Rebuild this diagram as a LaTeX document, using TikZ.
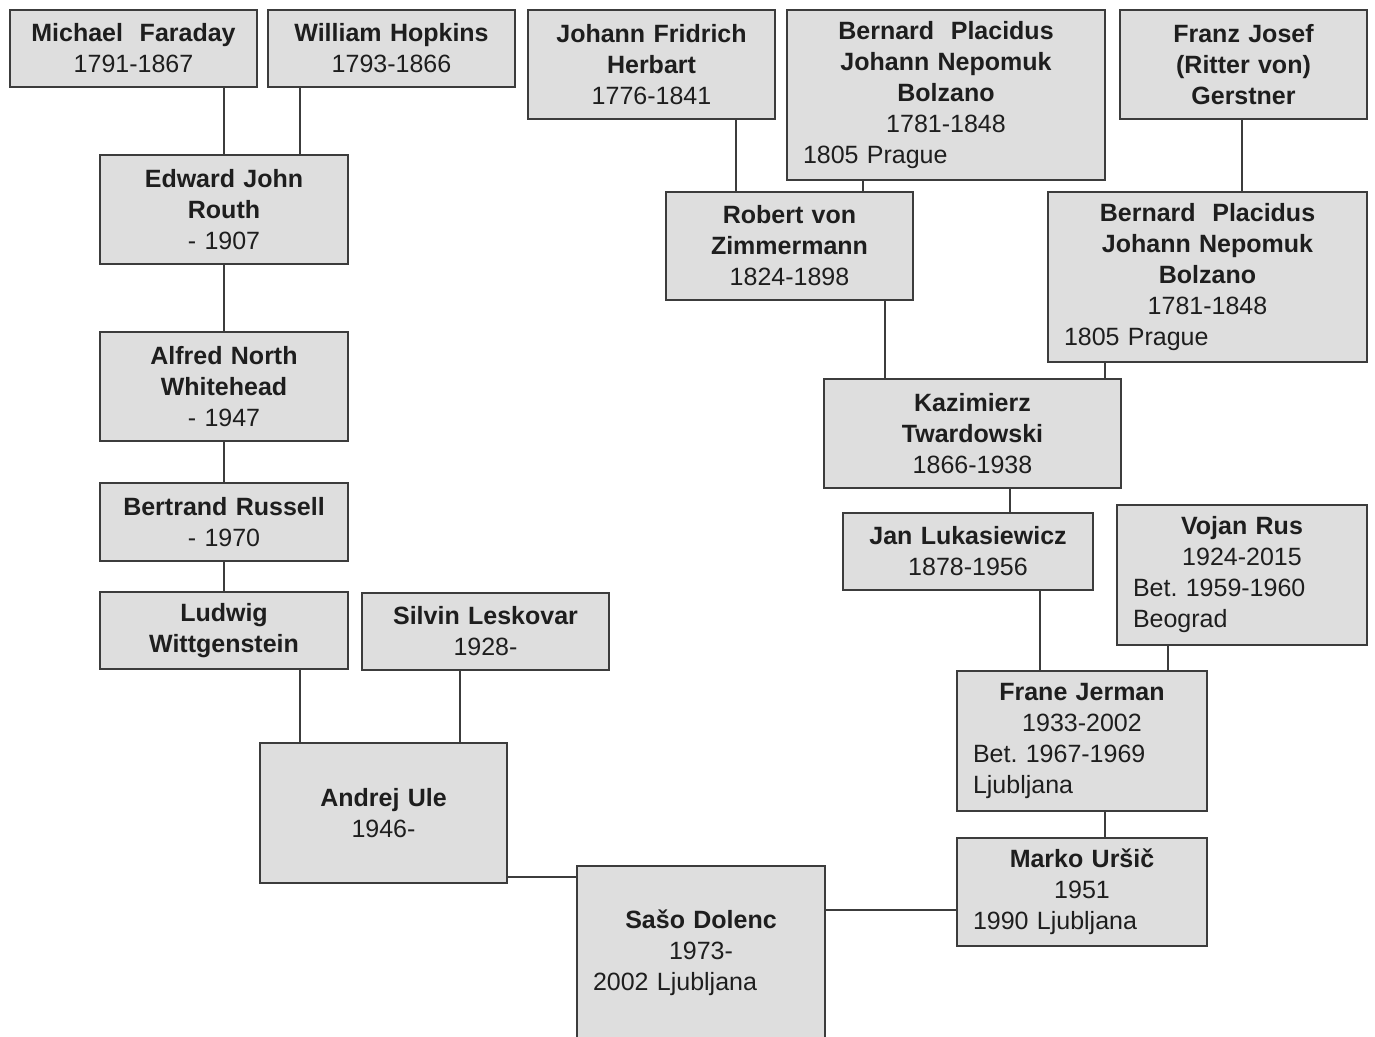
\documentclass[tikz,border=0pt]{standalone}
\usepackage{fontspec}
\setmainfont{Liberation Sans}
\frenchspacing
\definecolor{boxfill}{HTML}{DEDEDE}
\definecolor{boxline}{HTML}{3C3C3C}
\definecolor{txt}{HTML}{1E1E1E}
\newcommand\lft[1]{\makebox[\hsize][l]{#1}}
\begin{document}
\begin{tikzpicture}[x=1pt,y=-1pt,
  box/.style={draw=boxline, line width=1.6pt, fill=boxfill, text=txt,
    inner xsep=16pt, inner ysep=0pt, align=center,
    font=\fontsize{25}{31}\selectfont},
  bx/.style args={#1/#2}{box, minimum width=#1pt, minimum height=#2pt, text width=#1pt-32pt},
  link/.style={draw=boxline, line width=1.6pt}]
\useasboundingbox (0,0) rectangle (1375,1036);
\fill[white] (0,0) rectangle (1375,1036);

\node[bx=247/77] (faraday) at (133.5,48.5) {\textbf{Michael~ Faraday}\\1791-1867};
\node[bx=247/77] (hopkins) at (391.5,48.5) {\textbf{William Hopkins}\\1793-1866};
\node[bx=247/109] (herbart) at (651.5,64.5) {\textbf{Johann Fridrich}\\\textbf{Herbart}\\1776-1841};
\node[bx=318/170] (bolzanoA) at (946,95) {\textbf{Bernard~ Placidus}\\\textbf{Johann Nepomuk}\\\textbf{Bolzano}\\1781-1848\\\lft{1805 Prague}};
\node[bx=247/109] (gerstner) at (1243.5,64.5) {\textbf{Franz Josef}\\\textbf{(Ritter von)}\\\textbf{Gerstner}};
\node[bx=248/109] (routh) at (224,209.5) {\textbf{Edward John}\\\textbf{Routh}\\- 1907};
\node[bx=247/108] (zimmermann) at (789.5,246) {\textbf{Robert von}\\\textbf{Zimmermann}\\1824-1898};
\node[bx=319/170] (bolzanoB) at (1207.5,277) {\textbf{Bernard~ Placidus}\\\textbf{Johann Nepomuk}\\\textbf{Bolzano}\\1781-1848\\\lft{1805 Prague}};
\node[bx=248/109] (whitehead) at (224,386.5) {\textbf{Alfred North}\\\textbf{Whitehead}\\- 1947};
\node[bx=297/109] (kazimierz) at (972.5,433.5) {\textbf{Kazimierz}\\\textbf{Twardowski}\\1866-1938};
\node[bx=248/78] (russell) at (224,522) {\textbf{Bertrand Russell}\\- 1970};
\node[bx=250/77] (lukasiewicz) at (968,551.5) {\textbf{Jan Lukasiewicz}\\1878-1956};
\node[bx=250/140] (vojan) at (1242,575) {\textbf{Vojan Rus}\\1924-2015\\\lft{Bet. 1959-1960}\\\lft{Beograd}};
\node[bx=248/77] (wittgenstein) at (224,630.5) {\textbf{Ludwig}\\\textbf{Wittgenstein}};
\node[bx=247/77] (leskovar) at (485.5,631.5) {\textbf{Silvin Leskovar}\\1928-};
\node[bx=247/140] (ule) at (383.5,813) {\textbf{Andrej Ule}\\1946-};
\node[bx=250/140] (jerman) at (1082,741) {\textbf{Frane Jerman}\\1933-2002\\\lft{Bet. 1967-1969}\\\lft{Ljubljana}};
\node[bx=250/108] (ursic) at (1082,892) {\textbf{Marko Uršič}\\1951\\\lft{1990 Ljubljana}};
\node[bx=248/200] (dolenc) at (701,966) {\textbf{Sašo Dolenc}\\1973-\\\lft{2002 Ljubljana}\\\mbox{}};

\draw[link] (faraday.south -| 224,0) -- (routh.north -| 224,0);
\draw[link] (hopkins.south -| 300,0) -- (routh.north -| 300,0);
\draw[link] (routh.south -| 224,0) -- (whitehead.north -| 224,0);
\draw[link] (whitehead.south -| 224,0) -- (russell.north -| 224,0);
\draw[link] (russell.south -| 224,0) -- (wittgenstein.north -| 224,0);
\draw[link] (wittgenstein.south -| 300,0) -- (ule.north -| 300,0);
\draw[link] (leskovar.south -| 460,0) -- (ule.north -| 460,0);
\draw[link] (ule.east |- 0,877) -- (dolenc.west |- 0,877);
\draw[link] (herbart.south -| 736,0) -- (zimmermann.north -| 736,0);
\draw[link] (bolzanoA.south -| 863,0) -- (zimmermann.north -| 863,0);
\draw[link] (gerstner.south -| 1242,0) -- (bolzanoB.north -| 1242,0);
\draw[link] (zimmermann.south -| 885,0) -- (kazimierz.north -| 885,0);
\draw[link] (bolzanoB.south -| 1105,0) -- (kazimierz.north -| 1105,0);
\draw[link] (kazimierz.south -| 1010,0) -- (lukasiewicz.north -| 1010,0);
\draw[link] (lukasiewicz.south -| 1040,0) -- (jerman.north -| 1040,0);
\draw[link] (vojan.south -| 1168,0) -- (jerman.north -| 1168,0);
\draw[link] (jerman.south -| 1105,0) -- (ursic.north -| 1105,0);
\draw[link] (ursic.west |- 0,910) -- (dolenc.east |- 0,910);
\end{tikzpicture}
\end{document}
